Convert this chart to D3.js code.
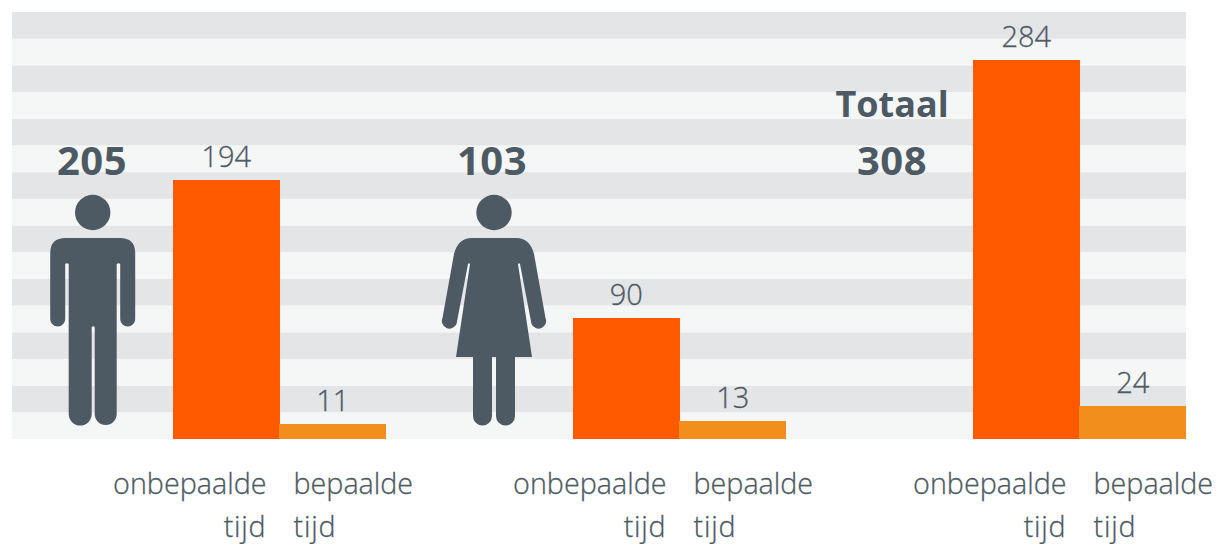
<!DOCTYPE html>
<html>
<head>
<meta charset="utf-8">
<script src="https://cdn.jsdelivr.net/npm/d3@7"></script>
<style>
  body { margin: 0; background: #fff; }
  text { font-family: "Open Sans", sans-serif; fill: #4d5963; }
  .thin { stroke: #4d5963; stroke-width: 0.3px; }
</style>
</head>
<body>
<div id="my_dataviz"></div>
<script>
// the data
const groups = ["man", "vrouw", "totaal"];
const onbepaalde = [194, 90, 284];
const bepaalde = [11, 13, 24];
const totals = [205, 103, 308];
const contractTypes = ["onbepaalde", "bepaalde"];
const bandTicks = [0, 20, 40, 60, 80, 100, 120, 140, 160, 180, 200, 220, 240, 260, 280, 300];

// set the dimensions of the graph
const width = 1219,
  height = 544,
  plot = { left: 12, right: 1186, top: 12, bottom: 439 };

const colors = { onbepaalde: "#ff5a00", bepaalde: "#f18e1c" };
const ink = "#4d5963";

const svg = d3.select("#my_dataviz")
  .append("svg")
  .attr("width", width)
  .attr("height", height)
  .style("display", "block");

// Y scale, every background stripe is 20 units high
const y = d3.scaleLinear().domain([0, 320]).range([plot.bottom, plot.top]);

// X scales: one for the three groups, one for the two bars in a group
const x = d3.scaleBand().domain(groups).range([173, plot.right]).paddingInner(0.4675);
const xBar = d3.scaleBand().domain(contractTypes).range([0, x.bandwidth()]);

// background stripes
svg.append("g")
  .selectAll("rect")
  .data(bandTicks)
  .join("rect")
  .attr("x", plot.left)
  .attr("width", plot.right - plot.left)
  .attr("y", d => y(d + 20))
  .attr("height", d => y(d) - y(d + 20))
  .attr("fill", (d, i) => i % 2 === 0 ? "#f5f7f7" : "#e4e5e7");

// the bars
const rows = groups.flatMap((g, i) => [
  { group: g, type: "onbepaalde", value: onbepaalde[i] },
  { group: g, type: "bepaalde", value: bepaalde[i] }
]);

// bar edges snapped to whole pixels, the two bars of a group overlap by a pixel
const barLeft = d => Math.floor(x(d.group) + xBar(d.type));
const barRight = d => {
  const end = x(d.group) + xBar(d.type) + xBar.bandwidth();
  return d.type === "onbepaalde" ? Math.ceil(end) : Math.floor(end);
};

svg.append("g")
  .selectAll("rect")
  .data(rows)
  .join("rect")
  .attr("x", barLeft)
  .attr("width", d => barRight(d) - barLeft(d))
  .attr("y", d => Math.floor(y(d.value)))
  .attr("height", d => plot.bottom - Math.floor(y(d.value)))
  .attr("fill", d => colors[d.type]);

// value labels
svg.append("g")
  .selectAll("text")
  .data(rows)
  .join("text")
  .attr("class", "thin")
  .attr("x", d => x(d.group) + xBar(d.type) + xBar.bandwidth() / 2)
  .attr("y", d => Math.floor(y(d.value)) - 13)
  .attr("text-anchor", "middle")
  .style("font-size", "29px")
  .style("font-weight", 300)
  .text(d => d.value);

// the category labels under each group
const labels = svg.append("g")
  .selectAll("g")
  .data(groups)
  .join("g")
  .attr("transform", d => `translate(${x(d) + xBar.bandwidth()},0)`)
  .style("font-size", "28.7px")
  .style("font-weight", 300);

[["onbepaalde", -13, "end"], ["bepaalde", 14, "start"]].forEach(([word, dx, anchor]) => {
  labels.append("text").attr("class", "thin").attr("x", dx).attr("y", 494).attr("text-anchor", anchor).text(word);
  labels.append("text").attr("class", "thin").attr("x", dx).attr("y", 537).attr("text-anchor", anchor).style("letter-spacing", "0.8px").text("tijd");
});

// totals above the figures
const totalX = [92, 492, 892];
svg.append("g")
  .selectAll("text")
  .data(totals)
  .join("text")
  .attr("x", (d, i) => totalX[i])
  .attr("y", 175)
  .attr("text-anchor", "middle")
  .style("font-size", "40px")
  .style("letter-spacing", "0.5px")
  .style("font-weight", 700)
  .text(d => d);

svg.append("text")
  .attr("x", totalX[2])
  .attr("y", 117)
  .attr("text-anchor", "middle")
  .style("font-size", "36px")
  .style("font-weight", 700)
  .text("Totaal");

// pictograms, drawn around the centre line of the figure
const man = "M-27,0 H27 Q42.5,0 42.5,15 V81 A7.5,7.5 0 0 1 27.5,81 V26 Q26,24.5 24,26 V176 A11,11 0 0 1 2,176 V89 Q0.5,87.5 -1,89 V176 A11.5,11.5 0 0 1 -24,176 V26 Q-26,24.5 -27.5,26 V81 A7.5,7.5 0 0 1 -42.5,81 V15 Q-42.5,0 -27,0 Z";
const woman = "M-22,0 H22 Q36,0 40,16 L51.5,80 A7.6,7.6 0 0 1 37.5,86 L26,26 Q25,24.5 24,26 L38,119 H21 V178 A9.5,9.5 0 0 1 2,178 V119 H-2 V178 A9.5,9.5 0 0 1 -21,178 V119 H-38 L-24,26 Q-25,24.5 -26,26 L-37.5,86 A7.6,7.6 0 0 1 -51.5,80 L-40,16 Q-36,0 -22,0 Z";

[[92.7, man], [494, woman]].forEach(([cx, d]) => {
  const fig = svg.append("g").attr("fill", ink);
  fig.append("circle").attr("cx", cx).attr("cy", 212.5).attr("r", 17.7);
  fig.append("path").attr("transform", `translate(${cx},238)`).attr("d", d);
});
</script>
</body>
</html>
